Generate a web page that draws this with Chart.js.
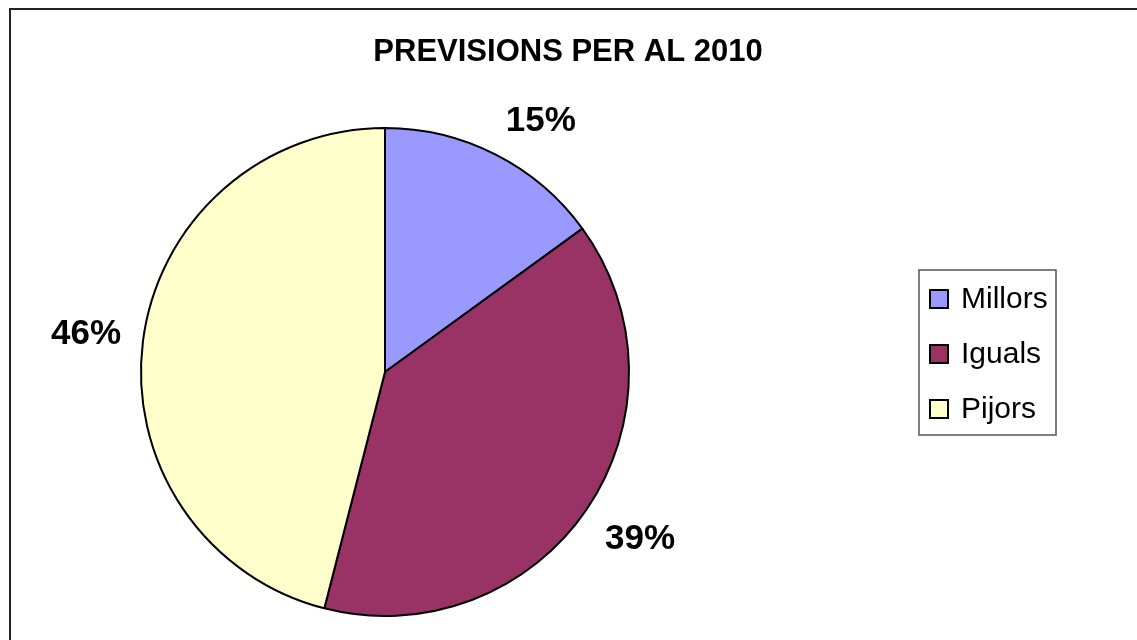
<!DOCTYPE html>
<html>
<head>
<meta charset="utf-8">
<script src="https://cdn.jsdelivr.net/npm/chart.js@4"></script>
<style>
  html, body { margin: 0; padding: 0; background: #fff; }
  #wrap { position: relative; width: 1137px; height: 640px; }
</style>
</head>
<body>
<div id="wrap"><canvas id="chart"></canvas></div>
<script>
const titleText = 'PREVISIONS PER AL 2010';
const categories = ['Millors', 'Iguals', 'Pijors'];
const shares = [15, 39, 46];
const sliceColors = ['#9999FF', '#993366', '#FFFFCC'];

const FONT = '"Liberation Sans", Arial, sans-serif';

// title, frame, percent labels and the boxed legend on the right
const decorations = {
  id: 'decorations',
  beforeDraw(chart) {
    const ctx = chart.ctx;
    ctx.save();
    ctx.fillStyle = '#fff';
    ctx.fillRect(0, 0, chart.width, chart.height);
    ctx.strokeStyle = '#222';
    ctx.lineWidth = 2;
    ctx.beginPath();
    ctx.moveTo(10, chart.height);
    ctx.lineTo(10, 9);
    ctx.lineTo(chart.width, 9);
    ctx.stroke();
    ctx.restore();
  },
  afterDraw(chart) {
    const ctx = chart.ctx;
    ctx.save();
    ctx.fillStyle = '#000';
    ctx.textAlign = 'center';
    ctx.textBaseline = 'middle';
    ctx.font = 'bold 31px ' + FONT;
    ctx.fillText(titleText, 568, 52);

    // percent labels just outside each slice
    const ds = chart.data.datasets[0];
    const total = ds.data.reduce((a, b) => a + b, 0);
    ctx.font = 'bold 35px ' + FONT;
    chart.getDatasetMeta(0).data.forEach((arc, i) => {
      const a = (arc.startAngle + arc.endAngle) / 2;
      const c = Math.cos(a), s = Math.sin(a);
      const txt = Math.round(ds.data[i] / total * 100) + '%';
      const w = ctx.measureText(txt).width;
      const h = 32;
      const d = arc.outerRadius + 22;
      const sx = Math.max(-1, Math.min(1, c / 0.3));
      const sy = Math.max(-1, Math.min(1, s / 0.3));
      ctx.fillText(txt, arc.x + c * d + sx * w / 2, arc.y + s * d + sy * h / 2 + 2);
    });

    // legend
    const lx = 919, ly = 270, lw = 137, lh = 165;
    ctx.strokeStyle = '#555';
    ctx.lineWidth = 1.5;
    ctx.strokeRect(lx, ly, lw, lh);
    ctx.textAlign = 'left';
    ctx.font = '30px ' + FONT;
    chart.data.labels.forEach((lab, i) => {
      const cy = 299 + i * 55;
      ctx.fillStyle = ds.backgroundColor[i];
      ctx.fillRect(930, cy - 9, 18, 18);
      ctx.strokeStyle = '#000';
      ctx.lineWidth = 2;
      ctx.strokeRect(930, cy - 9, 18, 18);
      ctx.fillStyle = '#000';
      ctx.fillText(lab, 961, cy + 1);
    });
    ctx.restore();
  }
};

new Chart(document.getElementById('chart'), {
  type: 'pie',
  data: {
    labels: categories,
    datasets: [{
      data: shares,
      backgroundColor: sliceColors,
      borderColor: '#000',
      borderWidth: 2
    }]
  },
  options: {
    responsive: true,
    maintainAspectRatio: false,
    animation: false,
    layout: { padding: { left: 140, right: 507, top: 127, bottom: 23 } },
    plugins: {
      legend: { display: false },
      title: { display: false },
      tooltip: { enabled: false }
    }
  },
  plugins: [decorations]
});
</script>
</body>
</html>
